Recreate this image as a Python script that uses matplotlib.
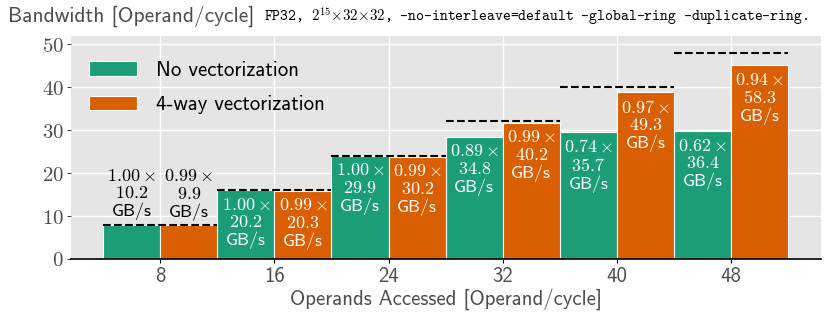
import matplotlib
matplotlib.use("Agg")
import matplotlib.pyplot as plt
import numpy as np

plt.rcParams['font.family'] = ['cmss10', 'DejaVu Sans']
plt.rcParams['mathtext.fontset'] = 'cm'
plt.rcParams['axes.unicode_minus'] = False

categories = [8, 16, 24, 32, 40, 48]
peak = [8, 16, 24, 32, 40, 48]
eff_novec = [1.00, 1.00, 1.00, 0.89, 0.74, 0.62]
eff_vec = [0.99, 0.99, 0.99, 0.99, 0.97, 0.94]
gbs_novec = ["10.2", "20.2", "29.9", "34.8", "35.7", "36.4"]
gbs_vec = ["9.9", "20.3", "30.2", "40.2", "49.3", "58.3"]
series_labels = ["No vectorization", "4-way vectorization"]
colors = ["#1b9e77", "#d95f02"]

vals_novec = [e * p for e, p in zip(eff_novec, peak)]
vals_vec = [e * p for e, p in zip(eff_vec, peak)]

fig = plt.figure(figsize=(8.31, 3.27), dpi=100)
ax = fig.add_axes([0.0854, 0.208, 0.9026, 0.682])
ax.set_facecolor("#e5e5e5")
ax.set_axisbelow(True)
ax.grid(True, color="white", linewidth=1.0)

x = np.array(categories, dtype=float)
w = 4.0
ax.bar(x - w / 2, vals_novec, width=w, color=colors[0], edgecolor="white", linewidth=0.8, label=series_labels[0])
ax.bar(x + w / 2, vals_vec, width=w, color=colors[1], edgecolor="white", linewidth=0.8, label=series_labels[1])

for xi, p in zip(x, peak):
    ax.plot([xi - w, xi + w], [p, p], color="black", linestyle="--", linewidth=1.5, zorder=5)

def annotate(xpos, val, eff, gb):
    txt = "$%.2f\\times$\n$%s$\nGB/s" % (eff, gb)
    if val < 12:
        ax.text(xpos, val + 1.0, txt, ha="center", va="bottom", fontsize=13,
                color="black", linespacing=1.12, zorder=6)
    else:
        ax.text(xpos, val - 1.5, txt, ha="center", va="top", fontsize=13,
                color="white", linespacing=1.12, zorder=6)

for xi, v, e, g in zip(x, vals_novec, eff_novec, gbs_novec):
    annotate(xi - w / 2, v, e, g)
for xi, v, e, g in zip(x, vals_vec, eff_vec, gbs_vec):
    annotate(xi + w / 2, v, e, g)

ax.set_xlim(1.75, 54.3)
ax.set_ylim(0, 51.9)
ax.set_xticks(categories)
ax.set_xticklabels([str(c) for c in categories], fontsize=15, color="#4d4d4d")
yt = [0, 10, 20, 30, 40, 50]
ax.set_yticks(yt)
ax.set_yticklabels(["$%d$" % v for v in yt], fontsize=15, color="#4d4d4d")
ax.tick_params(axis="y", length=3, color="#4d4d4d", pad=2)
ax.tick_params(axis="x", length=3, color="black", pad=3)
for s in ["top", "right", "left"]:
    ax.spines[s].set_visible(False)
ax.spines["bottom"].set_color("black")
ax.spines["bottom"].set_linewidth(1.2)

ax.set_xlabel("Operands Accessed [Operand/cycle]", fontsize=15, color="#4d4d4d", labelpad=1)

fig.text(0.01, 0.935, "Bandwidth [Operand/cycle]", fontsize=15.4, color="#4d4d4d", ha="left", va="baseline")
fig.text(0.318, 0.935, r"FP32, $2^{15}{\times}32{\times}32$, -no-interleave=default -global-ring -duplicate-ring.",
         fontsize=10.8, family=["cmtt10", "DejaVu Sans Mono"], ha="left", va="baseline", color="black")

ax.legend(loc="upper left", bbox_to_anchor=(0.005, 0.955), frameon=False, fontsize=15,
          handlelength=2.3, handleheight=0.7, handletextpad=0.9, labelspacing=0.75,
          borderaxespad=0.3, borderpad=0.4)

fig.savefig("out.png", dpi=100)
